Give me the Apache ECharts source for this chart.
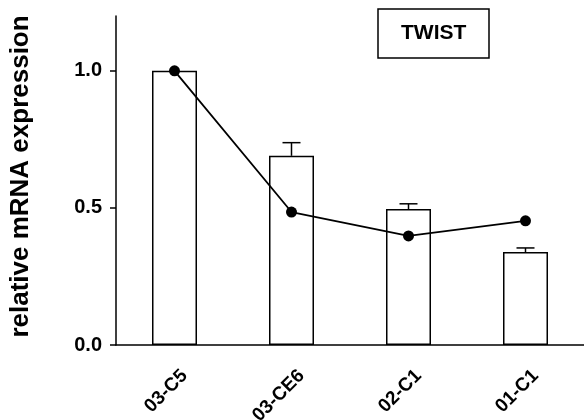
<!DOCTYPE html>
<html>
<head>
<meta charset="utf-8">
<script src="https://cdn.jsdelivr.net/npm/echarts@6/dist/echarts.min.js"></script>
<style>
  html, body { margin: 0; padding: 0; background: #fff; }
  #chart { width: 584px; height: 420px; }
</style>
</head>
<body>
<div id="chart"></div>
<script>
// data
const categories = ['03-C5', '03-CE6', '02-C1', '01-C1'];
const barValues = [1.0, 0.69, 0.496, 0.339];
const barErrors = [0, 0.048, 0.019, 0.015];
const lineValues = [1.0, 0.485, 0.398, 0.453];
const yTicks = [0, 0.5, 1.0];

const FONT = '"Liberation Sans", Arial, sans-serif';

const chart = echarts.init(document.getElementById('chart'));

chart.setOption({
  animation: false,
  backgroundColor: '#fff',
  title: {
    text: 'TWIST',
    left: 378,
    top: 9,
    padding: [14, 23],
    borderColor: '#000',
    borderWidth: 1.5,
    textStyle: { fontFamily: FONT, fontSize: 21, fontWeight: 'bold', color: '#000', lineHeight: 21 }
  },
  grid: { left: 116, right: 0, top: 16, bottom: 75, outerBoundsMode: 'none' },
  xAxis: {
    type: 'category',
    data: categories,
    axisLine: { lineStyle: { color: '#000', width: 1.5 } },
    axisTick: { alignWithLabel: true, length: 5, lineStyle: { color: '#000', width: 1.5 } },
    axisLabel: {
      rotate: 45,
      margin: 18,
      align: 'right',
      verticalAlign: 'top',
      lineHeight: 28,
      fontFamily: FONT,
      fontSize: 19,
      fontWeight: 'bold',
      color: '#000'
    },
    splitLine: { show: false }
  },
  yAxis: {
    type: 'value',
    min: 0,
    max: 1.2,
    interval: 0.5,
    name: 'relative mRNA expression',
    nameLocation: 'middle',
    nameGap: 82,
    nameTextStyle: { fontFamily: FONT, fontSize: 26, fontWeight: 'bold', color: '#000', padding: [0, 0, 0, 8] },
    axisLine: { show: true, lineStyle: { color: '#000', width: 1.5 } },
    axisTick: { show: true, length: 6, customValues: yTicks, lineStyle: { color: '#000', width: 1.5 } },
    axisLabel: {
      customValues: yTicks,
      margin: 14,
      formatter: v => v.toFixed(1),
      fontFamily: FONT,
      fontSize: 20,
      fontWeight: 'bold',
      color: '#000'
    },
    splitLine: { show: false }
  },
  series: [
    {
      type: 'bar',
      data: barValues,
      barWidth: 45,
      itemStyle: { color: '#fff', borderColor: '#000', borderWidth: 1.5 },
      z: 2
    },
    {
      type: 'custom',
      z: 3,
      data: barValues.map((v, i) => [i, v, v + barErrors[i]]),
      renderItem: function (params, api) {
        const i = api.value(0);
        if (barErrors[i] <= 0) return null;
        const base = api.coord([i, api.value(1)]);
        const top = api.coord([i, api.value(2)]);
        const half = 9;
        return {
          type: 'group',
          children: [
            { type: 'line', shape: { x1: base[0], y1: base[1], x2: top[0], y2: top[1] },
              style: { stroke: '#000', lineWidth: 1.5 } },
            { type: 'line', shape: { x1: top[0] - half, y1: top[1], x2: top[0] + half, y2: top[1] },
              style: { stroke: '#000', lineWidth: 1.5 } }
          ]
        };
      }
    },
    {
      type: 'line',
      data: lineValues,
      symbol: 'circle',
      symbolSize: 11,
      z: 4,
      itemStyle: { color: '#000' },
      lineStyle: { color: '#000', width: 1.8 }
    }
  ]
});
</script>
</body>
</html>
